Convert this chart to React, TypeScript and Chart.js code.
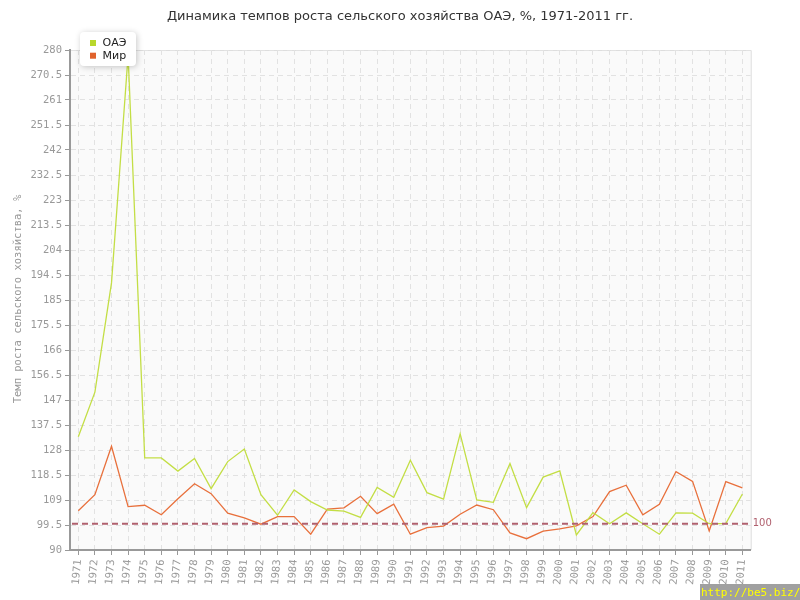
import React, { useEffect, useRef } from "react";
import { Chart, registerables } from "chart.js";

Chart.register(...registerables);

const chartTitle = "Динамика темпов роста сельского хозяйства ОАЭ, %, 1971-2011 гг.";
const yAxisTitle = "Темп роста сельского хозяйства, %";
const seriesNames = ["ОАЭ", "Мир"];
const years = [
  "1971", "1972", "1973", "1974", "1975", "1976", "1977", "1978", "1979", "1980",
  "1981", "1982", "1983", "1984", "1985", "1986", "1987", "1988", "1989", "1990",
  "1991", "1992", "1993", "1994", "1995", "1996", "1997", "1998", "1999", "2000",
  "2001", "2002", "2003", "2004", "2005", "2006", "2007", "2008", "2009", "2010", "2011",
];
const uaeValues = [
  133, 150, 191.5, 278, 125, 125, 120, 124.8, 113.3, 123.6,
  128.4, 111, 103.2, 112.8, 108.4, 105.2, 104.8, 102.4, 113.8, 110,
  124.1, 111.8, 109.3, 134.1, 109, 108.1, 122.9, 106.1, 117.7, 120.1,
  95.7, 104.2, 100, 104.1, 100, 96, 104.1, 104, 100, 100, 111.3,
];
const worldValues = [
  104.9, 111, 129.4, 106.5, 107, 103.4, 109.5, 115.2, 111.4, 104,
  102.2, 99.8, 102.7, 102.7, 96, 105.5, 106, 110.4, 103.8, 107.4,
  96, 98.5, 99.1, 103.6, 107.1, 105.3, 96.5, 94.3, 97.2, 98,
  99.2, 102.7, 112.2, 114.6, 103.4, 107.4, 119.8, 116.1, 97.2, 116, 113.6,
];
const yMin = 90;
const yMax = 280;
const yStep = 9.5;
const referenceLine = 100;
const watermark = "http://be5.biz/";

const GREEN = "#c3de45";
const RED = "#e8703c";
const REF = "#b0606e";
const MONO = "'DejaVu Sans Mono', monospace";
const SANS = "'DejaVu Sans', sans-serif";

const decorPlugin = {
  id: "decor",
  beforeDraw(chart: any) {
    const { ctx, chartArea: a } = chart;
    ctx.save();
    ctx.fillStyle = "#ffffff";
    ctx.fillRect(0, 0, chart.width, chart.height);
    ctx.fillStyle = "#fafafa";
    ctx.fillRect(a.left, a.top, a.right - a.left, a.bottom - a.top);
    ctx.strokeStyle = "#dddddd";
    ctx.lineWidth = 1;
    ctx.beginPath();
    ctx.moveTo(a.left, a.top + 0.5);
    ctx.lineTo(a.right + 0.5, a.top + 0.5);
    ctx.lineTo(a.right + 0.5, a.bottom);
    ctx.stroke();
    ctx.restore();
  },
  afterDatasetsDraw(chart: any) {
    const { ctx, chartArea: a } = chart;
    const y = chart.scales.y.getPixelForValue(referenceLine);
    ctx.save();
    ctx.strokeStyle = REF;
    ctx.lineWidth = 2;
    ctx.setLineDash([6, 4]);
    ctx.beginPath();
    ctx.moveTo(a.left + 2, y);
    ctx.lineTo(a.right, y);
    ctx.stroke();
    ctx.setLineDash([]);
    ctx.fillStyle = REF;
    ctx.font = `10px ${SANS}`;
    ctx.textBaseline = "middle";
    ctx.textAlign = "left";
    ctx.fillText(String(referenceLine), a.right + 2, y);
    ctx.restore();
  },
  afterDraw(chart: any) {
    const { ctx } = chart;
    ctx.save();
    // title
    ctx.fillStyle = "#333333";
    ctx.font = `13px ${SANS}`;
    ctx.textAlign = "center";
    ctx.textBaseline = "middle";
    ctx.fillText(chartTitle, 400, 17);
    // y axis title
    ctx.save();
    ctx.translate(18, 299);
    ctx.rotate(-Math.PI / 2);
    ctx.fillStyle = "#999999";
    ctx.font = `10.5px ${MONO}`;
    ctx.fillText(yAxisTitle, 0, 0);
    ctx.restore();
    // legend box
    const bx = 80, by = 32, bw = 56, bh = 34;
    ctx.save();
    ctx.shadowColor = "rgba(0,0,0,0.22)";
    ctx.shadowBlur = 6;
    ctx.shadowOffsetX = 1;
    ctx.shadowOffsetY = 1;
    ctx.fillStyle = "#ffffff";
    ctx.beginPath();
    (ctx as any).roundRect(bx, by, bw, bh, 4);
    ctx.fill();
    ctx.restore();
    const colors = [GREEN, RED];
    const legendColors = ["#b8d72c", "#e0622c"];
    seriesNames.forEach((name, i) => {
      const cy = 43 + i * 12.7;
      ctx.fillStyle = legendColors[i] || colors[i];
      ctx.fillRect(90, cy - 3, 6, 6);
      ctx.fillStyle = "#222222";
      ctx.font = `11px ${SANS}`;
      ctx.textAlign = "left";
      ctx.textBaseline = "middle";
      ctx.fillText(name, 102.5, cy);
    });
    // watermark
    ctx.fillStyle = "#a0a0a0";
    ctx.fillRect(700, 584, 100, 16);
    ctx.fillStyle = "#ffff00";
    ctx.font = `11px ${MONO}`;
    ctx.textAlign = "left";
    ctx.textBaseline = "middle";
    ctx.fillText(watermark, 701, 593);
    ctx.restore();
  },
};

export default function App() {
  const ref = useRef<HTMLCanvasElement | null>(null);
  useEffect(() => {
    if (!ref.current) return;
    const chart = new Chart(ref.current, {
      type: "line",
      data: {
        labels: years,
        datasets: [
          {
            label: seriesNames[0],
            data: uaeValues,
            borderColor: GREEN,
            backgroundColor: GREEN,
            borderWidth: 1.3,
            pointRadius: 0,
            tension: 0,
          },
          {
            label: seriesNames[1],
            data: worldValues,
            borderColor: RED,
            backgroundColor: RED,
            borderWidth: 1.3,
            pointRadius: 0,
            tension: 0,
          },
        ],
      },
      options: {
        responsive: false,
        animation: false,
        events: [],
        layout: { padding: { top: 50, right: 49.3, left: 0, bottom: 0 } },
        plugins: {
          legend: { display: false },
          title: { display: false },
          tooltip: { enabled: false },
        },
        scales: {
          x: {
            type: "category",
            offset: true,
            afterFit(scale: any) {
              scale.height = 50;
            },
            grid: {
              color: "#e2e2e2",
              tickColor: "#999999",
              tickLength: 5,
              offset: false,
            },
            border: { color: "#999999", width: 2, dash: [5, 4] },
            ticks: {
              autoSkip: false,
              minRotation: 85,
              maxRotation: 85,
              padding: 4,
              color: "#999999",
              font: { family: MONO, size: 10.5 },
            },
          },
          y: {
            min: yMin,
            max: yMax,
            afterFit(scale: any) {
              scale.width = 70;
            },
            grid: {
              color: "#e2e2e2",
              tickColor: "#999999",
              tickLength: 5,
            },
            border: { color: "#999999", width: 2, dash: [5, 4] },
            ticks: {
              stepSize: yStep,
              padding: 3,
              color: "#999999",
              font: { family: MONO, size: 10.5 },
              callback: (v: any) => String(Number(v)),
            },
          },
        },
      },
      plugins: [decorPlugin],
    });
    return () => chart.destroy();
  }, []);
  return (
    <div style={{ position: "absolute", left: 0, top: 0, width: 800, height: 600 }}>
      <canvas ref={ref} width={800} height={600} style={{ width: 800, height: 600, display: "block" }} />
    </div>
  );
}
